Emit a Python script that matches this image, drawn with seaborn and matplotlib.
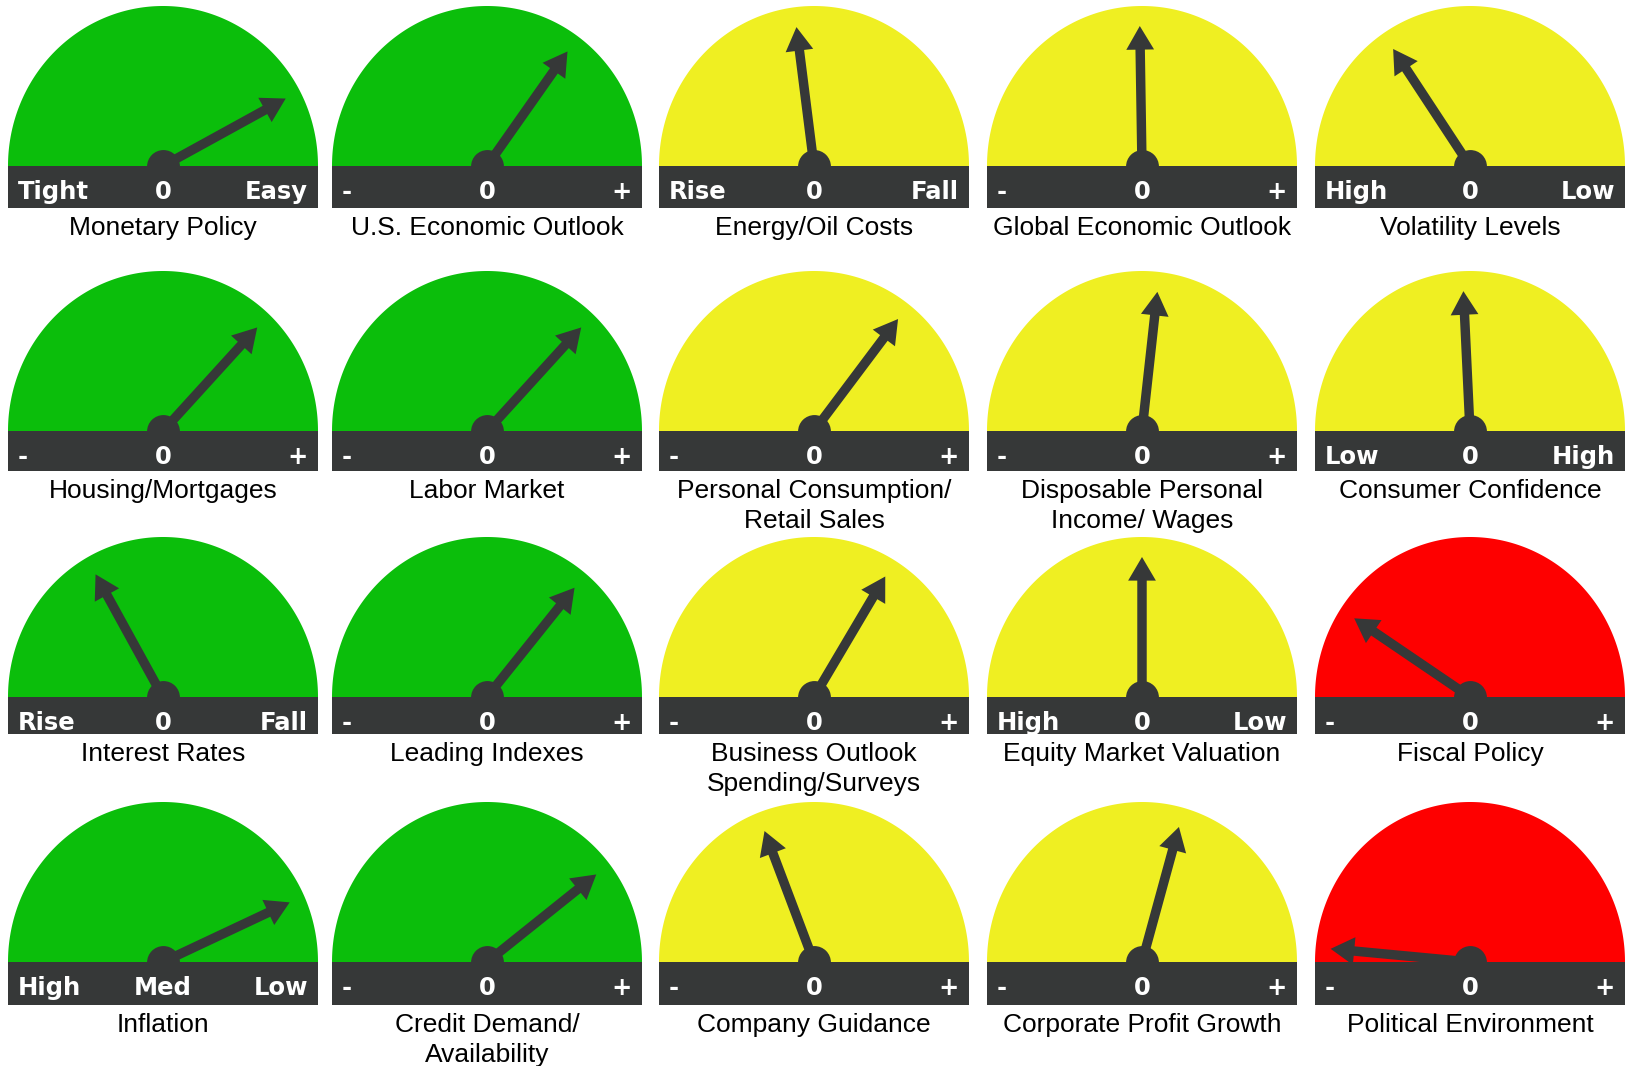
import matplotlib
matplotlib.use("Agg")
import matplotlib.pyplot as plt
from matplotlib.patches import Rectangle
import numpy as np
import seaborn as sns

titles = [
    "Monetary Policy", "U.S. Economic Outlook", "Energy/Oil Costs",
    "Global Economic Outlook", "Volatility Levels",
    "Housing/Mortgages", "Labor Market", "Personal Consumption/\nRetail Sales",
    "Disposable Personal\nIncome/ Wages", "Consumer Confidence",
    "Interest Rates", "Leading Indexes", "Business Outlook\nSpending/Surveys",
    "Equity Market Valuation", "Fiscal Policy",
    "Inflation", "Credit Demand/\nAvailability", "Company Guidance",
    "Corporate Profit Growth", "Political Environment",
]
left_labels = [
    "Tight", "-", "Rise", "-", "High",
    "-", "-", "-", "-", "Low",
    "Rise", "-", "-", "High", "-",
    "High", "-", "-", "-", "-",
]
mid_labels = [
    "0", "0", "0", "0", "0",
    "0", "0", "0", "0", "0",
    "0", "0", "0", "0", "0",
    "Med", "0", "0", "0", "0",
]
right_labels = [
    "Easy", "+", "Fall", "+", "Low",
    "+", "+", "+", "+", "High",
    "Fall", "+", "+", "Low", "+",
    "Low", "+", "+", "+", "+",
]
# needle position: -1 = far left, 0 = straight up, +1 = far right
needle_values = [
    0.68, 0.39, -0.08, -0.01, -0.37,
    0.47, 0.47, 0.41, 0.07, -0.03,
    -0.32, 0.43, 0.34, 0.00, -0.62,
    0.72, 0.57, -0.23, 0.17, -0.94,
]
status = [
    "green", "green", "yellow", "yellow", "yellow",
    "green", "green", "yellow", "yellow", "yellow",
    "green", "green", "yellow", "yellow", "red",
    "green", "green", "yellow", "yellow", "red",
]

palette = {"green": "#0bbe0b", "yellow": "#efef22", "red": "#fe0000"}
dark = "#363838"

sns.set_theme(style="white")
plt.rcParams["font.family"] = ["DejaVu Sans"]

W, H = 1627, 1066
fig = plt.figure(figsize=(W / 100, H / 100), dpi=100)
fig.patch.set_facecolor("white")

# layout in pixels
col_left = [8, 332, 659, 987, 1315]
bar_top = [166, 431, 697, 962]
bar_bot = [208, 471, 734, 1005]
half_w = 155
dome_h = 160
needle_len = 140

theta = np.linspace(0, np.pi, 300)

for i, title in enumerate(titles):
    r, c = divmod(i, 5)
    bh = bar_bot[r] - bar_top[r]
    top = bar_top[r] - dome_h
    ax = fig.add_axes([col_left[c] / W, 1 - bar_bot[r] / H,
                       2 * half_w / W, (bar_bot[r] - top) / H])

    # dome
    ax.fill(half_w * np.cos(theta), dome_h * np.sin(theta),
            color=palette[status[i]], lw=0, zorder=1)
    # dark label bar
    ax.add_patch(Rectangle((-half_w, -bh), 2 * half_w, bh, color=dark, lw=0, zorder=2))

    # needle
    ang = np.pi / 2 - needle_values[i] * np.pi / 2
    tip = (needle_len * np.cos(ang), needle_len * np.sin(ang))
    ax.annotate("", xy=tip, xytext=(0, 0),
                arrowprops=dict(arrowstyle="simple,head_length=0.85,head_width=1.0,tail_width=0.34",
                                mutation_scale=20, color=dark, lw=0,
                                shrinkA=0, shrinkB=0),
                zorder=3)
    # hub
    sns.scatterplot(x=[0], y=[0], s=560, color=dark, linewidth=0,
                    legend=False, ax=ax, zorder=4)

    lab = dict(color="white", fontsize=17.5, fontweight="bold", va="baseline", zorder=5)
    ax.text(-half_w + 10, -33, left_labels[i], ha="left", **lab)
    ax.text(0, -33, mid_labels[i], ha="center", **lab)
    ax.text(half_w - 10, -33, right_labels[i], ha="right", **lab)

    ax.text(0, -bh - 8, title, ha="center", va="top", fontsize=19,
            family=["Liberation Sans", "DejaVu Sans"], color="black",
            linespacing=1.3, clip_on=False)

    ax.set_xlim(-half_w, half_w)
    ax.set_ylim(-bh, dome_h)
    ax.axis("off")

fig.savefig("out.png", dpi=100, facecolor="white")
